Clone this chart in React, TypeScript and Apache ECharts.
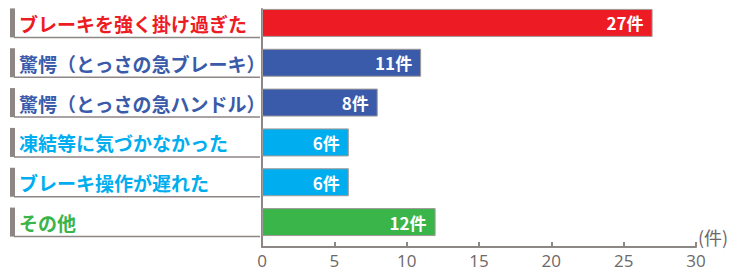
import React, { useEffect, useRef } from "react";
import * as echarts from "echarts";

const categories = [
  "ブレーキを強く掛け過ぎた",
  "驚愕（とっさの急ブレーキ）",
  "驚愕（とっさの急ハンドル）",
  "凍結等に気づかなかった",
  "ブレーキ操作が遅れた",
  "その他",
];
const values = [27, 11, 8, 6, 6, 12];
const colors = ["#ED1C24", "#3A5BA9", "#3A5BA9", "#00AEEF", "#00AEEF", "#39B54A"];
const unit = "件";
const xTicks = [0, 5, 10, 15, 20, 25, 30];

const GRAY = "#8C8684";
const FONT = "'Noto Sans CJK JP', 'Noto Sans', sans-serif";

export default function App() {
  const ref = useRef<HTMLDivElement>(null);
  useEffect(() => {
    document.body.style.margin = "0";
    if (!ref.current) return;
    const chart = echarts.init(ref.current, undefined, { renderer: "svg" });
    const xMin = xTicks[0];
    const xMax = xTicks[xTicks.length - 1];
    const step = xTicks[1] - xTicks[0];
    chart.setOption({
      animation: false,
      grid: [
        { left: 262, right: 45, top: 3, height: 239 },
        { left: 262, right: 45, top: 9, bottom: 24 },
      ],
      xAxis: [
        { gridIndex: 0, type: "value", min: xMin, max: xMax, show: false },
        {
          gridIndex: 1,
          type: "value",
          min: xMin,
          max: xMax,
          interval: step,
          name: "(" + unit + ")",
          nameLocation: "end",
          nameGap: 2,
          nameTextStyle: {
            color: "#6D6867",
            fontSize: 18,
            fontFamily: FONT,
            verticalAlign: "bottom",
            lineHeight: 20,
            padding: [0, 0, 0, 0],
          },
          axisLine: { show: true, lineStyle: { color: GRAY, width: 2 } },
          axisTick: { show: true, inside: true, length: 5, lineStyle: { color: GRAY, width: 2 } },
          axisLabel: {
            color: "#6D6867",
            fontSize: 17,
            lineHeight: 17,
            fontFamily: "'Open Sans', 'Noto Sans', sans-serif",
            margin: 5,
          },
          splitLine: { show: false },
        },
      ],
      yAxis: [
        { gridIndex: 0, type: "category", data: categories, inverse: true, show: false },
        {
          gridIndex: 1,
          type: "value",
          min: 0,
          max: 1,
          axisLine: { show: true, lineStyle: { color: GRAY, width: 2 } },
          axisTick: { show: false },
          axisLabel: { show: false },
          splitLine: { show: false },
        },
      ],
      series: [
        {
          type: "bar",
          xAxisIndex: 0,
          yAxisIndex: 0,
          barWidth: 28,
          data: values.map((v, i) => ({
            value: v,
            itemStyle: { color: colors[i], borderColor: "#A09A98", borderWidth: 1 },
          })),
          label: {
            show: true,
            position: "insideRight",
            distance: 9,
            color: "#fff",
            fontSize: 17,
            fontWeight: "bold",
            fontFamily: FONT,
            formatter: (p: any) => p.value + unit,
          },
        },
        {
          type: "custom",
          xAxisIndex: 0,
          yAxisIndex: 0,
          clip: false,
          silent: true,
          data: categories.map((c, i) => [0, i]),
          renderItem: (params: any, api: any) => {
            const idx = api.value(1);
            const [x0, yc] = api.coord([0, idx]);
            const h = 28;
            const top = yc - h / 2 - 0.5;
            const bottom = yc + h / 2 + 0.5;
            const left = x0 - 252;
            return {
              type: "group",
              children: [
                { type: "rect", shape: { x: left, y: top, width: 5, height: bottom - top }, style: { fill: GRAY } },
                {
                  type: "line",
                  shape: { x1: left + 4, y1: bottom, x2: x0 - 2, y2: bottom },
                  style: { stroke: GRAY, lineWidth: 1.5 },
                },
                {
                  type: "text",
                  x: left + 9,
                  y: yc + 0.5,
                  style: {
                    text: categories[idx],
                    fill: colors[idx],
                    font: "bold 19px " + FONT,
                    verticalAlign: "middle",
                    align: "left",
                  },
                },
              ],
            };
          },
        },
      ],
    });
    return () => chart.dispose();
  }, []);
  return <div ref={ref} style={{ width: 741, height: 271 }} />;
}
